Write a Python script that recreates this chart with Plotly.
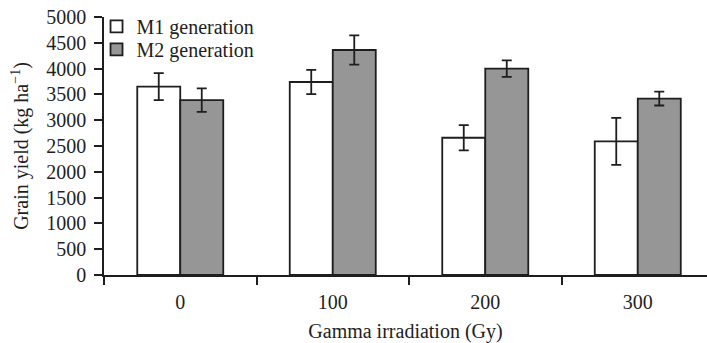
import plotly.graph_objects as go

doses = ["0", "100", "200", "300"]
m1_yield = [3650, 3740, 2660, 2590]
m1_err = [262, 235, 245, 455]
m2_yield = [3390, 4360, 4000, 3420]
m2_err = [227, 284, 160, 135]
y_ticks = [0, 500, 1000, 1500, 2000, 2500, 3000, 3500, 4000, 4500, 5000]

font = "Liberation Serif, Times New Roman, serif"
edge = "#1e1e1e"
fs = 20

fig = go.Figure()
fig.add_trace(go.Bar(
    x=doses, y=m1_yield, name="M1 generation", legend="legend",
    marker=dict(color="white", line=dict(color=edge, width=1.8)),
    error_y=dict(type="data", array=m1_err, color=edge, thickness=1.8, width=5),
))
fig.add_trace(go.Bar(
    x=doses, y=m2_yield, name="M2 generation", legend="legend2",
    marker=dict(color="#969696", line=dict(color=edge, width=1.8)),
    error_y=dict(type="data", array=m2_err, color=edge, thickness=1.8, width=5),
))

leg_common = dict(x=-0.0124, xanchor="left", yanchor="top",
                  bgcolor="rgba(0,0,0,0)", font=dict(size=fs),
                  tracegroupgap=0, itemwidth=30)

fig.update_layout(
    width=707, height=343,
    margin=dict(l=104, r=0, t=17, b=68),
    paper_bgcolor="white", plot_bgcolor="white",
    barmode="group", bargap=0.436, bargroupgap=0,
    font=dict(family=font, size=fs, color="#1e1e1e"),
    showlegend=True,
    legend=dict(y=1.039, **leg_common),
    legend2=dict(y=0.95, **leg_common),
    xaxis=dict(
        type="category", range=[-0.5, 3.454], automargin=False,
        showline=True, linecolor=edge, linewidth=1.5,
        ticks="outside", tickson="boundaries", ticklen=8, tickcolor=edge, tickwidth=1.5,
        ticklabelstandoff=8,
        showgrid=False, zeroline=False,
        tickfont=dict(size=fs),
        title=dict(text="Gamma irradiation (Gy)", font=dict(size=fs), standoff=26),
    ),
    yaxis=dict(
        range=[0, 5000], tickvals=y_ticks, automargin=False,
        showline=True, linecolor=edge, linewidth=1.5,
        ticks="outside", ticklen=8, tickcolor=edge, tickwidth=1.5,
        ticklabelstandoff=4,
        showgrid=False, zeroline=False,
        tickfont=dict(size=fs),
        title=dict(text="Grain yield (kg ha<sup>−1</sup>)", font=dict(size=fs), standoff=12),
    ),
)

fig.write_html("out.html", config={"displayModeBar": False},
               post_script="document.body.style.margin='0';")
